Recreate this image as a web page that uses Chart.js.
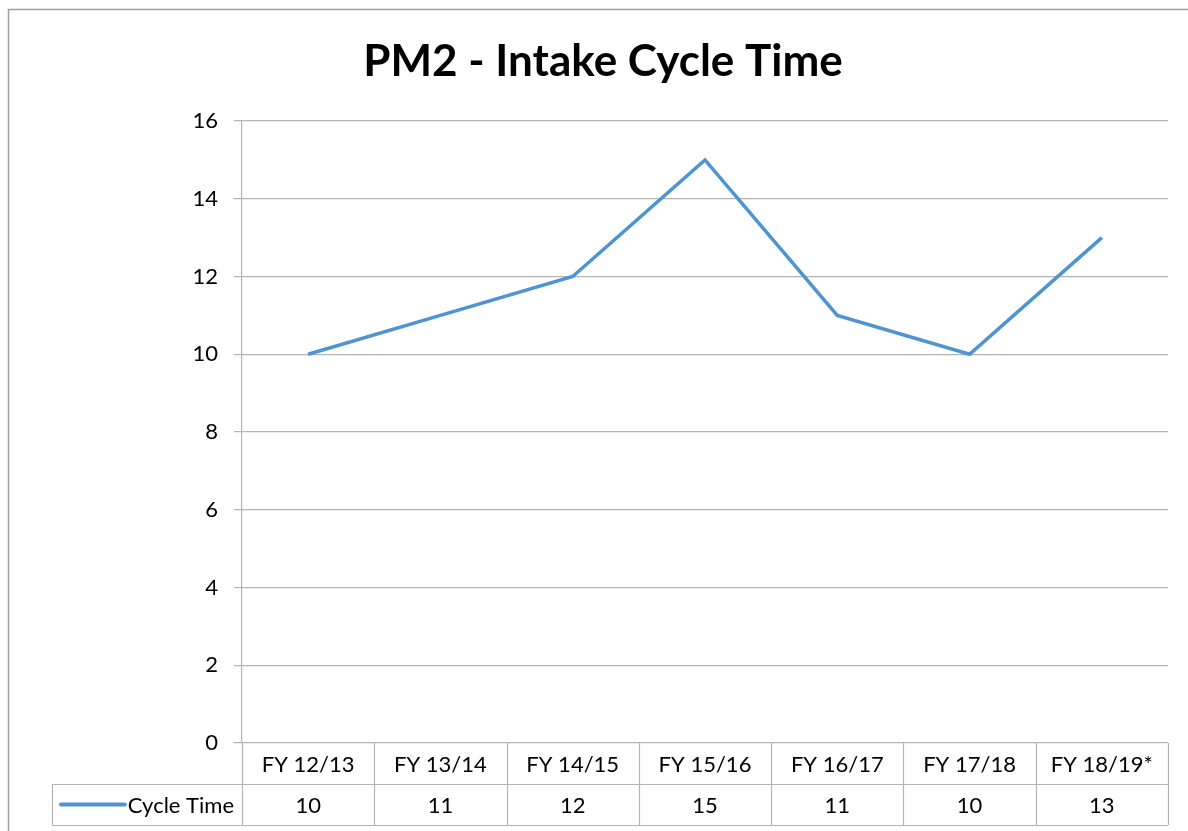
<!DOCTYPE html>
<html>
<head>
<meta charset="utf-8">
<script src="https://cdn.jsdelivr.net/npm/chart.js@4.4.0/dist/chart.umd.min.js"></script>
<style>
  html, body { margin: 0; padding: 0; background: #ffffff; }
  #wrap { width: 1188px; height: 831px; position: relative; }
</style>
</head>
<body>
<div id="wrap"><canvas id="c" width="1188" height="831"></canvas></div>
<script>
const chartTitle = "PM2 - Intake Cycle Time";
const categories = ["FY 12/13", "FY 13/14", "FY 14/15", "FY 15/16", "FY 16/17", "FY 17/18", "FY 18/19*"];
const seriesName = "Cycle Time";
const cycleTime = [10, 11, 12, 15, 11, 10, 13];
const yMin = 0, yMax = 16, yStep = 2;

const FONT = "Lato, 'Open Sans', 'Noto Sans', sans-serif";
const LINE_COLOR = "#4f94d2";
const GRID_COLOR = "#b4b4b4";

const tablePlugin = {
  id: "dataTable",
  afterDraw(chart) {
    const ctx = chart.ctx;
    const x = chart.scales.x;
    const area = chart.chartArea;
    const n = categories.length;
    const cw = (x.right - x.left) / n;
    const top = area.bottom;
    const rowH = 41;
    const legendLeft = 52;
    ctx.save();
    // outer chart border (left and top)
    ctx.strokeStyle = "#a0a0a0";
    ctx.lineWidth = 1.5;
    ctx.beginPath();
    ctx.moveTo(8.5, 840);
    ctx.lineTo(8.5, 9.5);
    ctx.lineTo(1200, 9.5);
    ctx.stroke();

    ctx.strokeStyle = GRID_COLOR;
    ctx.lineWidth = 1.2;
    ctx.beginPath();
    for (let i = 0; i <= n; i++) {
      const px = Math.round(x.left + i * cw) + 0.5;
      ctx.moveTo(px, top);
      ctx.lineTo(px, top + 2 * rowH);
    }
    ctx.moveTo(legendLeft + 0.5, top + rowH);
    ctx.lineTo(legendLeft + 0.5, top + 2 * rowH);
    ctx.moveTo(legendLeft, top + rowH + 0.5);
    ctx.lineTo(x.right, top + rowH + 0.5);
    ctx.moveTo(legendLeft, top + 2 * rowH + 0.5);
    ctx.lineTo(x.right, top + 2 * rowH + 0.5);
    ctx.stroke();

    ctx.fillStyle = "#000000";
    ctx.font = "22px " + FONT;
    ctx.textAlign = "center";
    ctx.textBaseline = "middle";
    for (let i = 0; i < n; i++) {
      const cx = x.getPixelForValue(i);
      ctx.fillText(categories[i], cx, top + rowH / 2 + 1);
      ctx.fillText(String(cycleTime[i]), cx, top + rowH * 1.5 + 1);
    }
    // legend key
    ctx.textAlign = "right";
    ctx.fillText(seriesName, x.left - 8, top + rowH * 1.5 + 1);
    const tw = ctx.measureText(seriesName).width;
    ctx.strokeStyle = LINE_COLOR;
    ctx.lineWidth = 4;
    ctx.lineCap = "round";
    ctx.beginPath();
    ctx.moveTo(61, top + rowH * 1.5);
    ctx.lineTo(Math.max(90, x.left - 8 - tw - 3), top + rowH * 1.5);
    ctx.stroke();
    ctx.restore();
  }
};

new Chart(document.getElementById("c"), {
  type: "line",
  data: {
    labels: categories,
    datasets: [{
      label: seriesName,
      data: cycleTime,
      borderColor: LINE_COLOR,
      backgroundColor: LINE_COLOR,
      borderWidth: 3.5,
      pointRadius: 0,
      pointHoverRadius: 0,
      tension: 0,
      fill: false
    }]
  },
  options: {
    responsive: false,
    animation: false,
    devicePixelRatio: 1,
    layout: { padding: { left: 18, right: 0, top: 0, bottom: 88 } },
    plugins: {
      legend: { display: false },
      tooltip: { enabled: false },
      title: {
        display: true,
        text: chartTitle,
        color: "#000000",
        font: { family: FONT, size: 44, weight: "bold", lineHeight: 1.2 },
        padding: { top: 35, bottom: 33.2 }
      }
    },
    scales: {
      x: {
        type: "category",
        offset: true,
        display: false
      },
      y: {
        min: yMin,
        max: yMax,
        ticks: {
          stepSize: yStep,
          color: "#000000",
          font: { family: FONT, size: 22 },
          padding: 16
        },
        grid: {
          color: GRID_COLOR,
          lineWidth: 1.2,
          tickLength: 8,
          drawTicks: true
        },
        border: { display: true, color: GRID_COLOR, width: 1.2 },
        afterFit(scale) { scale.width = 224; }
      },
      yRightSpace: {
        type: "linear",
        position: "right",
        display: true,
        ticks: { display: false },
        grid: { display: false, drawTicks: false },
        border: { display: false },
        afterFit(scale) { scale.width = 20; }
      }
    }
  },
  plugins: [tablePlugin]
});
</script>
</body>
</html>
